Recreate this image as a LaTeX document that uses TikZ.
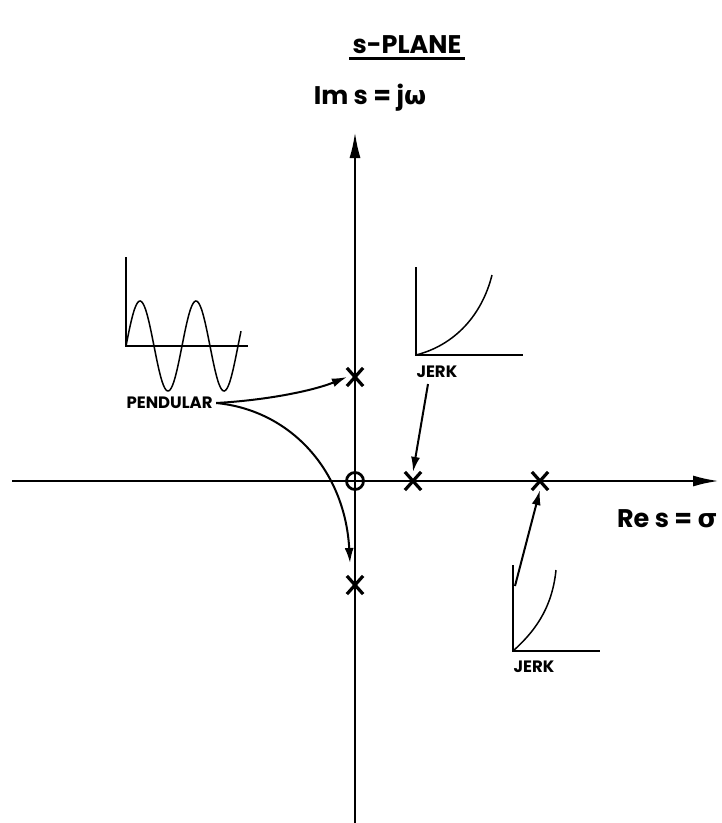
\documentclass[tikz,border=0pt]{standalone}
\usepackage{fontspec}
\setsansfont{Poppins}
\newfontfamily\greekfont{DejaVu Sans}
\usetikzlibrary{arrows.meta,shapes.misc}

\begin{document}
\begin{tikzpicture}[x=1pt, y=-1pt,
  axis/.style={line width=2.4pt, -{Latex[length=26pt, width=11pt]}},
  sketch/.style={line width=2.2pt},
  trace/.style={line width=1.5pt},
  pole/.style={cross out, draw, line width=3.2pt, minimum width=13pt,
               minimum height=15pt, inner sep=0pt},
  zero/.style={circle, draw, line width=2.8pt, minimum size=17pt, inner sep=0pt},
  biglabel/.style={font=\sffamily\bfseries\fontsize{25.5}{30}\selectfont},
  smalllabel/.style={font=\sffamily\bfseries\fontsize{16.5}{19}\selectfont},
  pointer/.style={line width=2pt, -{Latex[length=15pt, width=9pt]}},
]
\useasboundingbox (0,0) rectangle (722,823);

% axes of the plane
\coordinate (reL) at (12,481);
\coordinate (reR) at (719,481);
\coordinate (imB) at (355,823);
\coordinate (imT) at (355,132);
\draw[axis] (reL) -- (reR);
\draw[axis] (imB) -- (imT);

\node[biglabel] (title) at (407,45) {s-PLANE};
\draw[line width=2.8pt] ([yshift=-1pt]title.south west) -- ([yshift=-1pt]title.south east);
\node[biglabel] (imlbl) at (370,98) {Im s = j{\greekfont ω}};
\node[biglabel, anchor=east] (relbl) at (721,519) {Re s = {\greekfont σ}};

% roots
\node[zero]  (o)  at (355,481) {};
\node[pole]  (pa) at (355,377) {};
\node[pole]  (pb) at (355,585) {};
\node[pole]  (pc) at (413,481) {};
\node[pole]  (pd) at (540,481) {};

% pendular response
\draw[sketch] (126,257) -- (126,346) -- (248,346);
\draw[trace] plot[domain=0:115, samples=90, smooth] ({126+\x},{346-45*sin(\x*6.4286)});
\node[smalllabel, anchor=west] (pend) at (123,403) {PENDULAR};

% jerk responses
\draw[sketch] (416,267) -- (416,355) -- (523,355);
\draw[trace] (416,355) .. controls (455,345) and (482,315) .. (492,275);
\node[smalllabel, anchor=north west] (jerka) at (413,362) {JERK};

\draw[sketch] (513,565) -- (513,651) -- (600,651);
\draw[trace] (513,651) .. controls (533,633) and (552,610) .. (556,570);
\node[smalllabel, anchor=north west] (jerkb) at (510,657) {JERK};
\coordinate (jatail) at (428,384);
\coordinate (jbtail) at (515,586);
\coordinate (pbtip) at (350,563);

\draw[pointer] (pend.east) .. controls (270,400) and (315,390) .. (pa.west);
\draw[pointer] (pend.east) .. controls (290,410) and (345,470) .. (pbtip);
\draw[pointer] (jatail) -- (pc.north);
\draw[pointer] (jbtail) -- (pd.south);
\end{tikzpicture}
\end{document}
